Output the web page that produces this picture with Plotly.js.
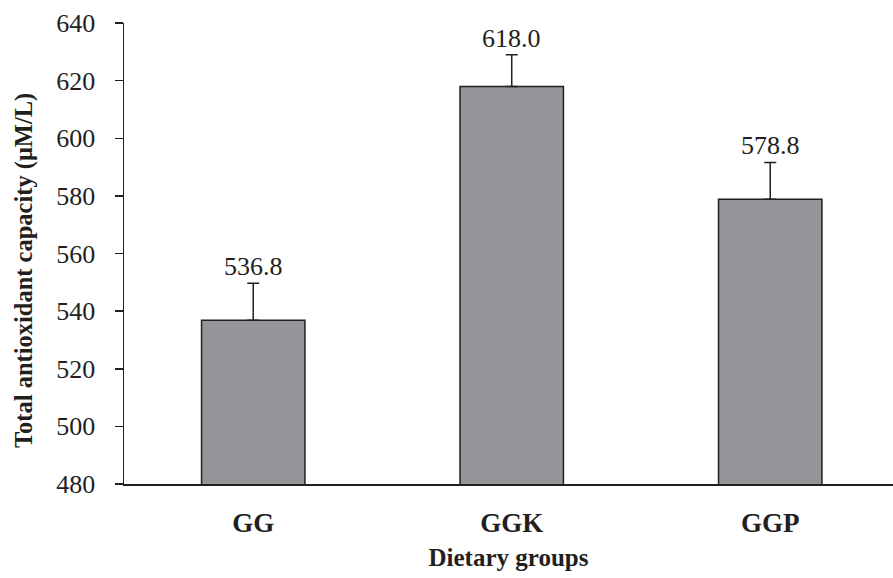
<!DOCTYPE html>
<html>
<head>
<meta charset="utf-8">
<script src="https://cdn.plot.ly/plotly-3.0.1.min.js"></script>
<style>html,body{margin:0;padding:0;background:#fff;}#chart{width:893px;height:578px;}</style>
</head>
<body>
<div id="chart"></div>
<script>
var categories = ["GG", "GGK", "GGP"];
var means = [536.8, 618.0, 578.8];
var errorsUp = [12.9, 11.0, 12.8];
var valueLabels = ["536.8", "618.0", "578.8"];
var yTicks = [480, 500, 520, 540, 560, 580, 600, 620, 640];

var font = "Liberation Serif";
var ink = "#231f20";

var trace = {
  type: "bar",
  x: categories,
  y: means,
  width: 0.4,
  marker: {color: "#939598", line: {color: ink, width: 1.5}},
  error_y: {
    type: "data", symmetric: false,
    array: errorsUp, arrayminus: categories.map(function(){return 0;}),
    color: ink, thickness: 1.5, width: 6
  },
  hoverinfo: "none"
};

var annotations = categories.map(function(c, i){
  return {
    x: c, y: means[i] + errorsUp[i], xref: "x", yref: "y",
    text: valueLabels[i], showarrow: false, yanchor: "bottom", yshift: 0,
    font: {family: font, size: 26, color: ink}
  };
});
annotations.push({
  xref: "paper", yref: "paper", x: -0.130, y: 0.462,
  xanchor: "center", yanchor: "middle", textangle: -90, showarrow: false,
  text: "<b>Total antioxidant capacity (μM/L)</b>",
  font: {family: font, size: 24.5, color: ink}
});

var layout = {
  width: 893, height: 578,
  margin: {l: 124, r: 0, t: 23, b: 94},
  paper_bgcolor: "#fff", plot_bgcolor: "#fff",
  showlegend: false,
  xaxis: {
    type: "category", range: [-0.5, 2.475],
    showline: true, linecolor: ink, linewidth: 1.5,
    ticks: "", showgrid: false, zeroline: false,
    tickfont: {family: font, size: 27, color: ink, weight: "bold"},
    ticklabelstandoff: 14,
    title: {text: "<b>Dietary groups</b>", font: {family: font, size: 25, color: ink}, standoff: 11}
  },
  yaxis: {
    range: [480, 640], tickvals: yTicks,
    showline: true, linecolor: ink, linewidth: 1.5,
    ticks: "outside", ticklen: 8, tickwidth: 1.5, tickcolor: ink,
    showgrid: false, zeroline: false,
    tickfont: {family: font, size: 26, color: ink},
    ticklabelstandoff: 14
  },
  annotations: annotations
};

Plotly.newPlot("chart", [trace], layout, {displayModeBar: false, staticPlot: true});
</script>
</body>
</html>
